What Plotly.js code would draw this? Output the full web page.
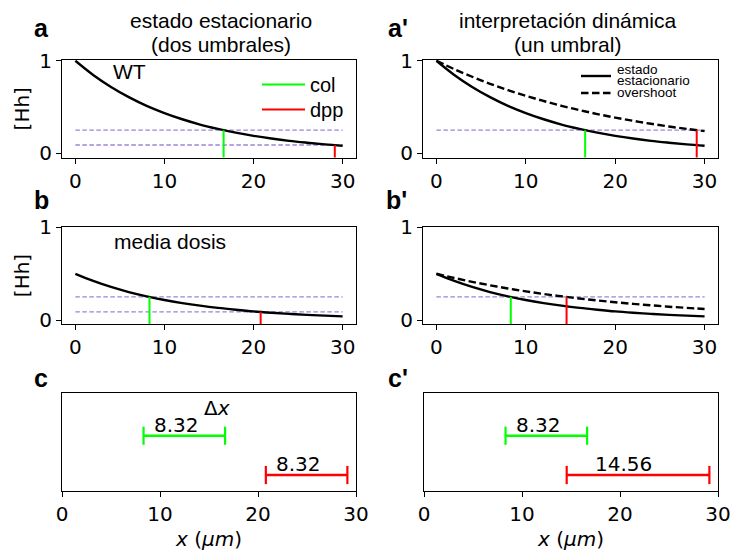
<!DOCTYPE html>
<html>
<head>
<meta charset="utf-8">
<script src="https://cdn.plot.ly/plotly-3.0.1.min.js"></script>
<style>html,body{margin:0;padding:0;background:#fff;}#chart{width:732px;height:552px;}</style>
</head>
<body>
<div id="chart"></div>
<script>
// ---- data ----
const xPos = [0, 2, 4, 6, 8, 10, 12, 14, 16, 18, 20, 22, 24, 26, 28, 30];
const hhWT        = [1.000, 0.847, 0.717, 0.607, 0.513, 0.435, 0.368, 0.311, 0.264, 0.223, 0.189, 0.160, 0.135, 0.115, 0.097, 0.082];
const hhHalf      = [0.500, 0.423, 0.358, 0.303, 0.257, 0.217, 0.184, 0.156, 0.132, 0.112, 0.094, 0.080, 0.068, 0.057, 0.049, 0.041];
const overshootWT   = [1.000, 0.909, 0.827, 0.751, 0.683, 0.621, 0.565, 0.513, 0.467, 0.424, 0.386, 0.351, 0.319, 0.290, 0.264, 0.240];
const overshootHalf = [0.500, 0.455, 0.413, 0.376, 0.341, 0.310, 0.282, 0.257, 0.233, 0.212, 0.193, 0.175, 0.160, 0.145, 0.132, 0.120];
const colThreshold = 0.25;
const dppThreshold = 0.09;
// boundary positions: [WT, media dosis]
const colX = [16.64, 8.32];
const dppXStatic = [29.12, 20.80];
const dppXDynamic = [29.12, 14.56];
const xTicks = [0, 10, 20, 30];
const yTicks = [0, 1];
const panelTitles = [["estado estacionario", "(dos umbrales)"], ["interpretación dinámica", "(un umbral)"]];
const panelLetters = ["a", "a'", "b", "b'", "c", "c'"];
const legendNames = {col: "col", dpp: "dpp", steady: ["estado", "estacionario"], over: "overshoot"};

// ---- styles ----
const GREEN = "#00ff00", RED = "#ff0000", PURPLE = "#9f82d8";
const yRange = [-0.045, 1.008];
const cRange = [0.593, 3.087];
const cRows = {col: 2, dpp: 1};
const SOLID_W = 2.4, DASH = '7.5px,3.5px';

const traces = [];
function hline(ax, y) {
  traces.push({x: [xPos[0], xPos[xPos.length - 1]], y: [y, y], xaxis: 'x' + ax, yaxis: 'y' + ax,
    mode: 'lines', line: {color: PURPLE, width: 1.3, dash: '4.5px,2.5px'}, showlegend: false, hoverinfo: 'skip'});
}
function curve(ax, ys, dashed, name) {
  traces.push({x: xPos, y: ys, xaxis: 'x' + ax, yaxis: 'y' + ax, mode: 'lines', name: name,
    line: {color: '#000', width: SOLID_W, shape: 'spline', smoothing: 1, dash: dashed ? DASH : 'solid'},
    showlegend: false});
}
function vline(ax, x, top, color, legendName, legendId) {
  const t = {x: [x, x], y: [yRange[0] - 0.1, top], xaxis: 'x' + ax, yaxis: 'y' + ax, mode: 'lines',
    line: {color: color, width: 2}, showlegend: false};
  if (legendName) { t.name = legendName; t.showlegend = true; t.legend = legendId; }
  traces.push(t);
}
function bar(ax, x0, x1, y, color) {
  traces.push({x: [x0, x1], y: [y, y], xaxis: 'x' + ax, yaxis: 'y' + ax, mode: 'lines+markers',
    line: {color: color, width: 2.5}, marker: {symbol: 'line-ns-open', size: 13, color: color, line: {color: color, width: 2.2}},
    showlegend: false, cliponaxis: false});
}

// a : steady state, WT
hline('', colThreshold); hline('', dppThreshold);
curve('', hhWT, false, 'WT');
vline('', colX[0], colThreshold, GREEN, legendNames.col, 'legend');
vline('', dppXStatic[0], dppThreshold, RED, legendNames.dpp, 'legend3');
// a' : dynamic, WT
hline('2', colThreshold);
curve('2', hhWT, false, legendNames.steady.join(' '));
curve('2', overshootWT, true, legendNames.over);
vline('2', colX[0], colThreshold, GREEN);
vline('2', dppXDynamic[0], colThreshold, RED);
// b : steady state, half dose
hline('3', colThreshold); hline('3', dppThreshold);
curve('3', hhHalf, false, 'media dosis');
vline('3', colX[1], colThreshold, GREEN);
vline('3', dppXStatic[1], dppThreshold, RED);
// b' : dynamic, half dose
hline('4', colThreshold);
curve('4', hhHalf, false, legendNames.steady.join(' '));
curve('4', overshootHalf, true, legendNames.over);
vline('4', colX[1], colThreshold, GREEN);
vline('4', dppXDynamic[1], colThreshold, RED);
// c / c' : shifts
const shifts = [
  {ax: '5', x0: colX[1], x1: colX[0], y: cRows.col, color: GREEN},
  {ax: '5', x0: dppXStatic[1], x1: dppXStatic[0], y: cRows.dpp, color: RED},
  {ax: '6', x0: colX[1], x1: colX[0], y: cRows.col, color: GREEN},
  {ax: '6', x0: dppXDynamic[1], x1: dppXDynamic[0], y: cRows.dpp, color: RED}
];
shifts.forEach(s => bar(s.ax, s.x0, s.x1, s.y, s.color));

// ---- layout ----
const W = 732, H = 552;
const px = v => v / W, py = v => (H - v) / H;
const tickFont = {family: 'DejaVu Sans', size: 20, color: '#000'};
function xax(n, domain, range, showTitle) {
  const a = {anchor: 'y' + n, domain: domain, range: range, tickvals: xTicks, ticktext: xTicks.map(String), ticks: 'outside', ticklen: 5, tickwidth: 1,
    tickcolor: '#000', showline: true, mirror: true, linecolor: '#000', linewidth: 1, showgrid: false, zeroline: false,
    tickfont: tickFont, fixedrange: true};
  if (showTitle) a.title = {text: '<i>x</i> (<i>μm</i>)', font: {family: 'DejaVu Sans', size: 20, color: '#000'}, standoff: 6};
  return a;
}
function yax(n, domain, showTitle) {
  const a = {anchor: 'x' + n, domain: domain, range: yRange, tickvals: yTicks, ticktext: yTicks.map(String), ticks: 'outside', ticklen: 5, tickwidth: 1,
    tickcolor: '#000', showline: true, mirror: true, linecolor: '#000', linewidth: 1, showgrid: false, zeroline: false,
    tickfont: tickFont, fixedrange: true};
  if (showTitle) a.title = {text: '[Hh]', font: {family: 'DejaVu Sans', size: 20, color: '#000'}, standoff: 4};
  return a;
}
function ycax(n, domain) {
  return {anchor: 'x' + n, domain: domain, range: cRange, showticklabels: false, ticks: '', showline: true, mirror: true, linecolor: '#000',
    linewidth: 1, showgrid: false, zeroline: false, fixedrange: true};
}
const col1 = [px(62), px(356)], col2 = [px(423), px(718)], col2c = [px(424), px(718)];
const rowA = [py(157.5), py(60)], rowB = [py(324.3), py(226.7)], rowC = [py(491), py(393)];
const xFull = [xPos[0] - 1.5, xPos[xPos.length - 1] + 1.5];
const xC = [xPos[0], xPos[xPos.length - 1]];

const ann = [];
const shapes = [];
const titleFont = {family: 'Liberation Sans, Arial, sans-serif', size: 21, color: '#000'};
[[221, panelTitles[0]], [567, panelTitles[1]]].forEach(([cx, lines]) => {
  ann.push({xref: 'paper', yref: 'paper', x: px(cx), y: py(21), xanchor: 'center', yanchor: 'middle', text: lines[0], showarrow: false, font: titleFont});
  ann.push({xref: 'paper', yref: 'paper', x: px(cx), y: py(44), xanchor: 'center', yanchor: 'middle', text: lines[1], showarrow: false, font: titleFont});
});
const letterPos = [[32, 28], [386, 28], [32, 199.5], [384, 199.5], [32, 378], [386, 378]];
panelLetters.forEach((l, i) => {
  ann.push({xref: 'paper', yref: 'paper', x: px(letterPos[i][0]), y: py(letterPos[i][1]), xanchor: 'left', yanchor: 'middle',
    text: '<b>' + l + '</b>', showarrow: false, font: {family: 'Liberation Sans, Arial, sans-serif', size: 25, color: '#000'}});
});
ann.push({xref: 'paper', yref: 'paper', x: px(111), y: py(71.5), xanchor: 'left', yanchor: 'middle', text: 'WT', showarrow: false, font: titleFont});
ann.push({xref: 'paper', yref: 'paper', x: px(112), y: py(241.5), xanchor: 'left', yanchor: 'middle', text: 'media dosis', showarrow: false, font: titleFont});
ann.push({xref: 'x5', yref: 'y5', x: 15.8, y: 2.71, xanchor: 'center', yanchor: 'middle', text: 'Δ<i>x</i>', showarrow: false,
  font: {family: 'DejaVu Sans', size: 20, color: '#000'}});
shifts.forEach(s => {
  const d = s.x1 - s.x0;
  ann.push({xref: 'x' + s.ax, yref: 'y' + s.ax, x: s.x0 + 0.4 * d, y: s.y, yshift: 11, xanchor: 'center', yanchor: 'middle',
    text: d.toFixed(2), showarrow: false, font: {family: 'DejaVu Sans', size: 20, color: '#000'}});
});

// legend of panel a' (compact two-line entry, drawn as key lines + labels)
const legFont = {family: 'Liberation Sans, Arial, sans-serif', size: 13.5, color: '#000'};
shapes.push({type: 'line', xref: 'paper', yref: 'paper', x0: px(581), x1: px(611), y0: py(76), y1: py(76), line: {color: '#000', width: SOLID_W}});
shapes.push({type: 'line', xref: 'paper', yref: 'paper', x0: px(581), x1: px(611), y0: py(93), y1: py(93), line: {color: '#000', width: SOLID_W, dash: DASH}});
[[legendNames.steady[0], 69.5], [legendNames.steady[1], 80.5], [legendNames.over, 92.5]].forEach(([t, y]) => {
  ann.push({xref: 'paper', yref: 'paper', x: px(616), y: py(y), xanchor: 'left', yanchor: 'middle', text: t, showarrow: false,
    borderpad: 0, font: legFont});
});

const legA = {xanchor: 'left', yanchor: 'top', bgcolor: 'rgba(0,0,0,0)', borderwidth: 0, itemwidth: 43,
  font: {family: 'Liberation Sans, Arial, sans-serif', size: 20, color: '#000'}};
const layout = {
  width: W, height: H, margin: {l: 0, r: 0, t: 0, b: 0}, paper_bgcolor: '#fff', plot_bgcolor: '#fff',
  font: {family: 'DejaVu Sans', color: '#000'},
  xaxis: xax('', col1, xFull), yaxis: yax('', rowA, true),
  xaxis2: xax('2', col2, xFull), yaxis2: yax('2', rowA, false),
  xaxis3: xax('3', col1, xFull), yaxis3: yax('3', rowB, true),
  xaxis4: xax('4', col2, xFull), yaxis4: yax('4', rowB, false),
  xaxis5: xax('5', col1, xC, true), yaxis5: ycax('5', rowC),
  xaxis6: xax('6', col2c, xC, true), yaxis6: ycax('6', rowC),
  legend: Object.assign({x: px(257), y: py(65)}, legA),
  legend3: Object.assign({x: px(257), y: py(90)}, legA),
  annotations: ann,
  shapes: shapes
};
Plotly.newPlot('chart', traces, layout, {staticPlot: true, displayModeBar: false});
</script>
</body>
</html>
